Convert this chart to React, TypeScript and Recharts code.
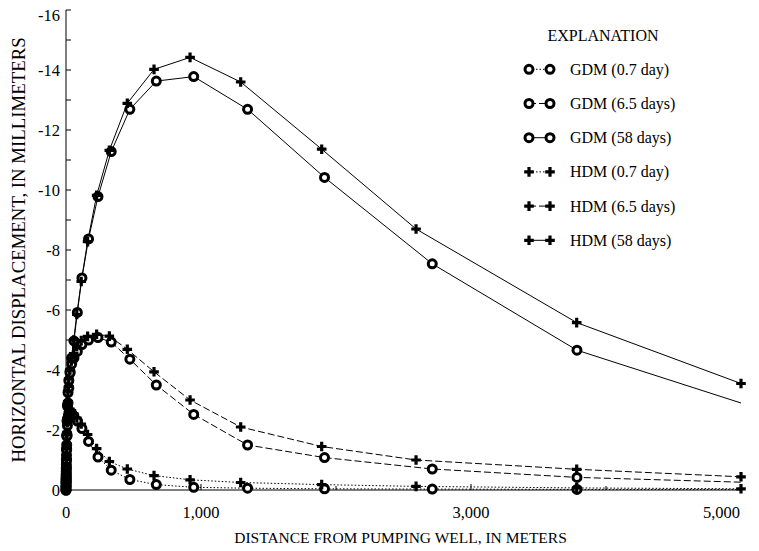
import { LineChart, Line, XAxis, YAxis, Legend } from 'recharts'

const FONT = '"Liberation Serif", "Times New Roman", serif'

// distance from pumping well, m (node positions of each model)
const gdmDist = [0, 0.33, 0.65, 0.93, 1.3, 1.9, 2.6, 3.7, 5.2, 7.4, 10.5, 15, 21, 30, 42, 59, 84, 118, 167, 237, 335, 473, 669, 946, 1345, 1915, 2713, 3785, 5000]
const hdmDist = [0, 0.3, 0.6, 0.85, 1.2, 1.8, 2.5, 3.5, 5, 7, 10, 14, 20, 28, 40, 57, 80, 113, 160, 227, 321, 454, 652, 919, 1294, 1894, 2593, 3783, 5000]

// horizontal displacement, mm
const gdm07 = [0, -0.12, -0.24, -0.33, -0.45, -0.62, -0.85, -1.15, -1.5, -1.85, -2.15, -2.4, -2.55, -2.6, -2.55, -2.45, -2.3, -2.05, -1.62, -1.1, -0.66, -0.35, -0.18, -0.09, -0.06, -0.04, -0.03, -0.02, -0.02]
const gdm65 = [0, -0.13, -0.26, -0.37, -0.5, -0.7, -1.0, -1.35, -1.8, -2.3, -2.8, -3.25, -3.65, -3.95, -4.2, -4.4, -4.62, -4.85, -5.0, -5.08, -4.93, -4.36, -3.5, -2.52, -1.5, -1.08, -0.7, -0.42, -0.26]
const gdm58 = [0, -0.1, -0.2, -0.29, -0.4, -0.55, -0.75, -1.0, -1.35, -1.8, -2.35, -2.9, -3.4, -3.9, -4.4, -4.97, -5.92, -7.07, -8.37, -9.78, -11.28, -12.69, -13.63, -13.78, -12.69, -10.42, -7.54, -4.66, -2.9]
const hdm07 = [0, -0.13, -0.25, -0.35, -0.48, -0.65, -0.88, -1.2, -1.55, -1.92, -2.25, -2.5, -2.65, -2.7, -2.65, -2.55, -2.4, -2.2, -1.85, -1.38, -0.95, -0.7, -0.48, -0.34, -0.25, -0.18, -0.12, -0.07, -0.04]
const hdm65 = [0, -0.14, -0.27, -0.38, -0.5, -0.72, -1.02, -1.38, -1.85, -2.35, -2.85, -3.3, -3.7, -4.0, -4.3, -4.55, -4.78, -4.98, -5.12, -5.19, -5.13, -4.69, -3.94, -3.0, -2.1, -1.45, -1.0, -0.69, -0.44]
const hdm58 = [0, -0.1, -0.2, -0.29, -0.4, -0.56, -0.77, -1.02, -1.38, -1.85, -2.4, -2.95, -3.45, -4.0, -4.4, -5.0, -5.85, -6.95, -8.28, -9.82, -11.32, -12.89, -14.02, -14.42, -13.6, -11.36, -8.7, -5.58, -3.55]

const xTicks = [0, 1000, 2000, 3000, 4000, 5000]
const xLabels = [0, 1000, 3000, 5000]
const yTicks = [-16, -15, -14, -13, -12, -11, -10, -9, -8, -7, -6, -5, -4, -3, -2, -1, 0]

const rows = (dist: number[], vals: number[]) => dist.map((d, i) => ({ d, v: vals[i] }))

const DOTTED = '1.5 2'
const DASHED = '7 3'

const series = [
  { name: 'GDM (0.7 day)', data: rows(gdmDist, gdm07), marker: 'ring', dash: DOTTED },
  { name: 'GDM (6.5 days)', data: rows(gdmDist, gdm65), marker: 'ring', dash: DASHED },
  { name: 'GDM (58 days)', data: rows(gdmDist, gdm58), marker: 'ring', dash: undefined },
  { name: 'HDM (0.7 day)', data: rows(hdmDist, hdm07), marker: 'plus', dash: DOTTED },
  { name: 'HDM (6.5 days)', data: rows(hdmDist, hdm65), marker: 'plus', dash: DASHED },
  { name: 'HDM (58 days)', data: rows(hdmDist, hdm58), marker: 'plus', dash: undefined }
]

const ring = (cx: number, cy: number, key?: string) => (
  <circle key={key} cx={cx} cy={cy} r={4} fill="#fff" stroke="#000" strokeWidth={3} />
)
const plus = (cx: number, cy: number, key?: string) => (
  <path key={key} d={`M${cx - 4.8},${cy}H${cx + 4.8}M${cx},${cy - 4.8}V${cy + 4.8}`} stroke="#000" strokeWidth={3.2} fill="none" />
)

// GDM line runs on to the frame, no marker at the edge
const RingDot = (p: any) => {
  if (p.cx == null || p.payload.d >= 5000) return <g key={`r${p.index}`} />
  return ring(p.cx, p.cy, `r${p.index}`)
}
const PlusDot = (p: any) => {
  if (p.cx == null) return <g key={`p${p.index}`} />
  return plus(p.cx, p.cy, `p${p.index}`)
}

const LeftTick = (p: any) => {
  const v = p.payload.value
  const ax = p.x + 6
  return (
    <g>
      <line x1={ax} x2={ax + 5} y1={p.y} y2={p.y} stroke="#000" />
      {v % 2 === 0 && (
        <text x={p.x} y={v === -16 ? p.y + 10.5 : p.y + 5.5} textAnchor="end" fontSize={16.5} fontFamily={FONT} fill="#000">
          {v}
        </text>
      )}
    </g>
  )
}

const RightTick = (p: any) => (
  <line x1={p.x} x2={p.x - 5} y1={p.y} y2={p.y} stroke="#000" />
)

const BottomTick = (p: any) => {
  const v = p.payload.value
  const labeled = xLabels.includes(v)
  const len = labeled ? 6 : 4
  return (
    <g>
      {v > 0 && v < 5000 && <line x1={p.x} x2={p.x} y1={p.y} y2={p.y - len} stroke="#000" />}
      {labeled && (
        <text x={v === 5000 ? p.x - 1 : p.x} y={p.y + 27.5} textAnchor={v === 5000 ? 'end' : 'middle'} fontSize={16.5} fontFamily={FONT} fill="#000">
          {v.toLocaleString('en-US')}
        </text>
      )}
    </g>
  )
}

const TopTick = (p: any) => {
  const v = p.payload.value
  const len = xLabels.includes(v) ? 6 : 4
  if (v <= 0 || v >= 5000) return <g />
  return <line x1={p.x} x2={p.x} y1={p.y} y2={p.y + len} stroke="#000" />
}

const YTitle = (p: any) => {
  const { y, height } = p.viewBox
  const cy = y + height / 2
  return (
    <text x={25} y={cy} transform={`rotate(-90 25 ${cy})`} textAnchor="middle" fontSize={18.8} fontFamily={FONT} fill="#000">
      HORIZONTAL DISPLACEMENT, IN MILLIMETERS
    </text>
  )
}

const XTitle = (p: any) => {
  const { x, width } = p.viewBox
  return (
    <text x={x + width / 2 - 3} y={542.5} textAnchor="middle" fontSize={15.5} fontFamily={FONT} fill="#000">
      DISTANCE FROM PUMPING WELL, IN METERS
    </text>
  )
}

// drawn in the order of the series, not sorted by name
const Explanation = () => (
  <svg width={240} height={240} style={{ overflow: 'visible' }}>
    <text x={103} y={20.5} textAnchor="middle" fontSize={16} fontFamily={FONT} fill="#000">
      EXPLANATION
    </text>
    {series.map((s, i) => {
      const cy = 49.3 + i * 34.2
      const mk = s.marker === 'ring' ? ring : plus
      return (
        <g key={s.name}>
          <line x1={29} x2={50} y1={cy} y2={cy} stroke="#000" strokeDasharray={s.dash} />
          {mk(29, cy)}
          {mk(50, cy)}
          <text x={70} y={cy + 5.5} fontSize={16} fontFamily={FONT} fill="#000">
            {s.name}
          </text>
        </g>
      )
    })}
  </svg>
)

export default function App() {
  return (
    <div style={{ position: 'absolute', left: 0, top: 0, background: '#fff' }}>
      <LineChart width={759} height={551} margin={{ top: 10, right: 18, left: 20, bottom: 31 }}>
        <XAxis
          dataKey="d"
          type="number"
          domain={[0, 5000]}
          ticks={xTicks}
          interval={0}
          height={30}
          tickSize={0}
          tickMargin={0}
          tickLine={false}
          axisLine={{ stroke: '#000' }}
          tick={BottomTick}
          label={<XTitle />}
        />
        <XAxis
          xAxisId="top"
          orientation="top"
          type="number"
          domain={[0, 5000]}
          allowDataOverflow
          ticks={xTicks}
          interval={0}
          height={0}
          tickSize={0}
          tickMargin={0}
          tickLine={false}
          axisLine={{ stroke: '#000' }}
          tick={TopTick}
        />
        <YAxis
          type="number"
          domain={[-16, 0]}
          reversed
          ticks={yTicks}
          interval={0}
          width={46}
          tickSize={0}
          tickMargin={6}
          tickLine={false}
          axisLine={{ stroke: '#000' }}
          tick={LeftTick}
          label={<YTitle />}
        />
        <YAxis
          yAxisId="right"
          orientation="right"
          type="number"
          domain={[-16, 0]}
          reversed
          allowDataOverflow
          ticks={yTicks}
          interval={0}
          width={0}
          tickSize={0}
          tickMargin={0}
          tickLine={false}
          axisLine={{ stroke: '#000' }}
          tick={RightTick}
        />
        <Legend
          layout="vertical"
          align="center"
          verticalAlign="middle"
          content={<Explanation />}
          wrapperStyle={{ left: 500, top: 20, width: 240, height: 240 }}
        />
        {series.map((s) => (
          <Line
            key={s.name}
            name={s.name}
            data={s.data}
            dataKey="v"
            type="linear"
            stroke="#000"
            strokeWidth={1}
            strokeDasharray={s.dash}
            dot={s.marker === 'ring' ? RingDot : PlusDot}
            activeDot={false}
            isAnimationActive={false}
          />
        ))}
      </LineChart>
    </div>
  )
}
